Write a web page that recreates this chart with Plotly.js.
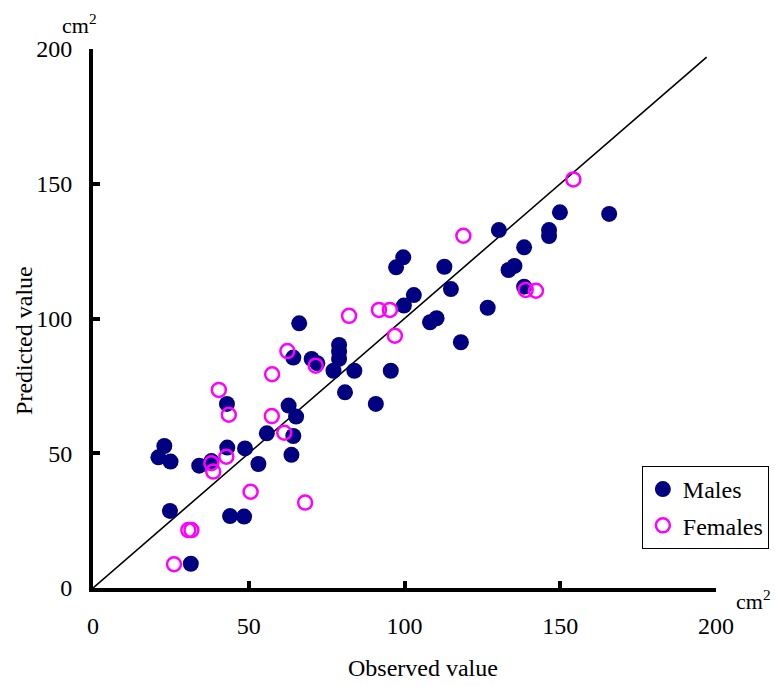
<!DOCTYPE html>
<html>
<head>
<meta charset="utf-8">
<script src="https://cdn.plot.ly/plotly-3.0.1.min.js"></script>
<style>html,body{margin:0;padding:0;background:#fff;}#chart{width:776px;height:686px;}</style>
</head>
<body>
<div id="chart"></div>
<script>
// Observed (x) and predicted (y) values, cm^2
const malesObserved = [21.0,22.9,24.9,24.7,31.4,34.1,38.0,43.0,43.1,44.0,48.5,48.8,53.1,55.8,62.8,63.7,64.3,65.2,64.3,66.2,70.2,72.0,77.2,79.0,79.0,79.0,80.9,83.9,90.8,95.6,97.3,99.6,99.8,103.0,108.2,110.3,112.8,114.9,118.1,126.7,130.3,133.4,135.3,138.4,138.4,146.4,146.4,149.9,165.7];
const malesPredicted = [48.5,52.7,46.9,28.6,9.0,45.4,47.1,68.3,52.1,26.7,26.5,51.8,46.0,57.4,67.7,49.4,56.4,63.6,85.5,98.2,85.0,83.4,80.6,90.2,87.7,85.0,72.6,80.6,68.3,80.6,119.0,122.7,104.8,108.7,98.6,100.1,119.2,110.9,91.2,104.0,132.8,118.0,119.5,126.4,111.8,132.8,130.6,139.4,138.8];
const femalesObserved = [26.0,30.6,31.6,38.0,38.6,40.4,42.8,43.6,50.6,57.4,57.5,61.4,62.4,68.1,71.5,82.2,91.8,95.3,96.9,118.9,138.9,142.2,154.2];
const femalesPredicted = [8.8,21.5,21.5,46.3,43.2,73.5,48.7,64.3,35.7,63.8,79.3,57.6,87.9,31.7,82.5,101.0,103.2,103.2,93.6,130.7,110.6,110.3,151.6];
const identityX = [0, 197];
const identityY = [0, 197];
const tickVals = [0, 50, 100, 150, 200];
const tickText = ['0', '50', '100', '150', '200'];
const seriesNames = ['Males', 'Females'];
const xTitle = 'Observed value';
const yTitle = 'Predicted value';
const unitText = 'cm<sup>2</sup>';

const serif = 'Liberation Serif, Times New Roman, serif';
const FS = 24;

const traces = [
  {x: identityX, y: identityY, mode: 'lines', line: {color: '#000', width: 1.6}, showlegend: false, hoverinfo: 'skip'},
  {x: malesObserved, y: malesPredicted, mode: 'markers', name: seriesNames[0], legendgroup: 'm',
   marker: {symbol: 'circle', size: 16, color: '#000080', line: {width: 0}}},
  {x: femalesObserved, y: femalesPredicted, mode: 'markers', name: seriesNames[1], legendgroup: 'f',
   marker: {symbol: 'circle-open', size: 14, color: '#FF00FF', line: {width: 2.5, color: '#FF00FF'}}}
];

const axisCommon = {
  range: [0, 200], tickvals: tickVals, ticktext: tickText,
  showgrid: false, zeroline: false, showline: true, linecolor: '#000', linewidth: 4,
  ticks: 'inside', ticklen: 7, tickwidth: 4, tickcolor: '#000',
  tickfont: {family: serif, size: FS, color: '#000'}
};

const layout = {
  width: 776, height: 686,
  margin: {l: 93, r: 60, t: 49, b: 98, autoexpand: false},
  paper_bgcolor: '#fff', plot_bgcolor: '#fff',
  font: {family: serif, color: '#000'},
  xaxis: Object.assign({}, axisCommon, {ticklabelstandoff: 13}),
  yaxis: Object.assign({}, axisCommon, {ticklabelstandoff: 12}),
  legend: {
    x: 0.881, y: 0.2263, xanchor: 'left', yanchor: 'top',
    bordercolor: '#000', borderwidth: 1, bgcolor: '#fff',
    font: {family: serif, size: FS, color: '#000'},
    tracegroupgap: 2, itemwidth: 30
  },
  annotations: [
    {xref: 'paper', yref: 'paper', x: 0.529, y: -0.148, xanchor: 'center', yanchor: 'middle',
     text: xTitle, showarrow: false, font: {family: serif, size: FS, color: '#000'}},
    {xref: 'paper', yref: 'paper', x: -0.111, y: 0.46, xanchor: 'center', yanchor: 'middle',
     text: yTitle, textangle: -90, showarrow: false, font: {family: serif, size: FS, color: '#000'}},
    {xref: 'paper', yref: 'paper', x: -0.022, y: 1.016, xanchor: 'center', yanchor: 'bottom',
     text: unitText, showarrow: false, font: {family: serif, size: 22, color: '#000'}},
    {xref: 'paper', yref: 'paper', x: 1.06, y: 0.007, xanchor: 'center', yanchor: 'top',
     text: unitText, showarrow: false, font: {family: serif, size: 22, color: '#000'}}
  ],
  showlegend: true
};

Plotly.newPlot('chart', traces, layout, {displayModeBar: false, staticPlot: true});
</script>
</body>
</html>
